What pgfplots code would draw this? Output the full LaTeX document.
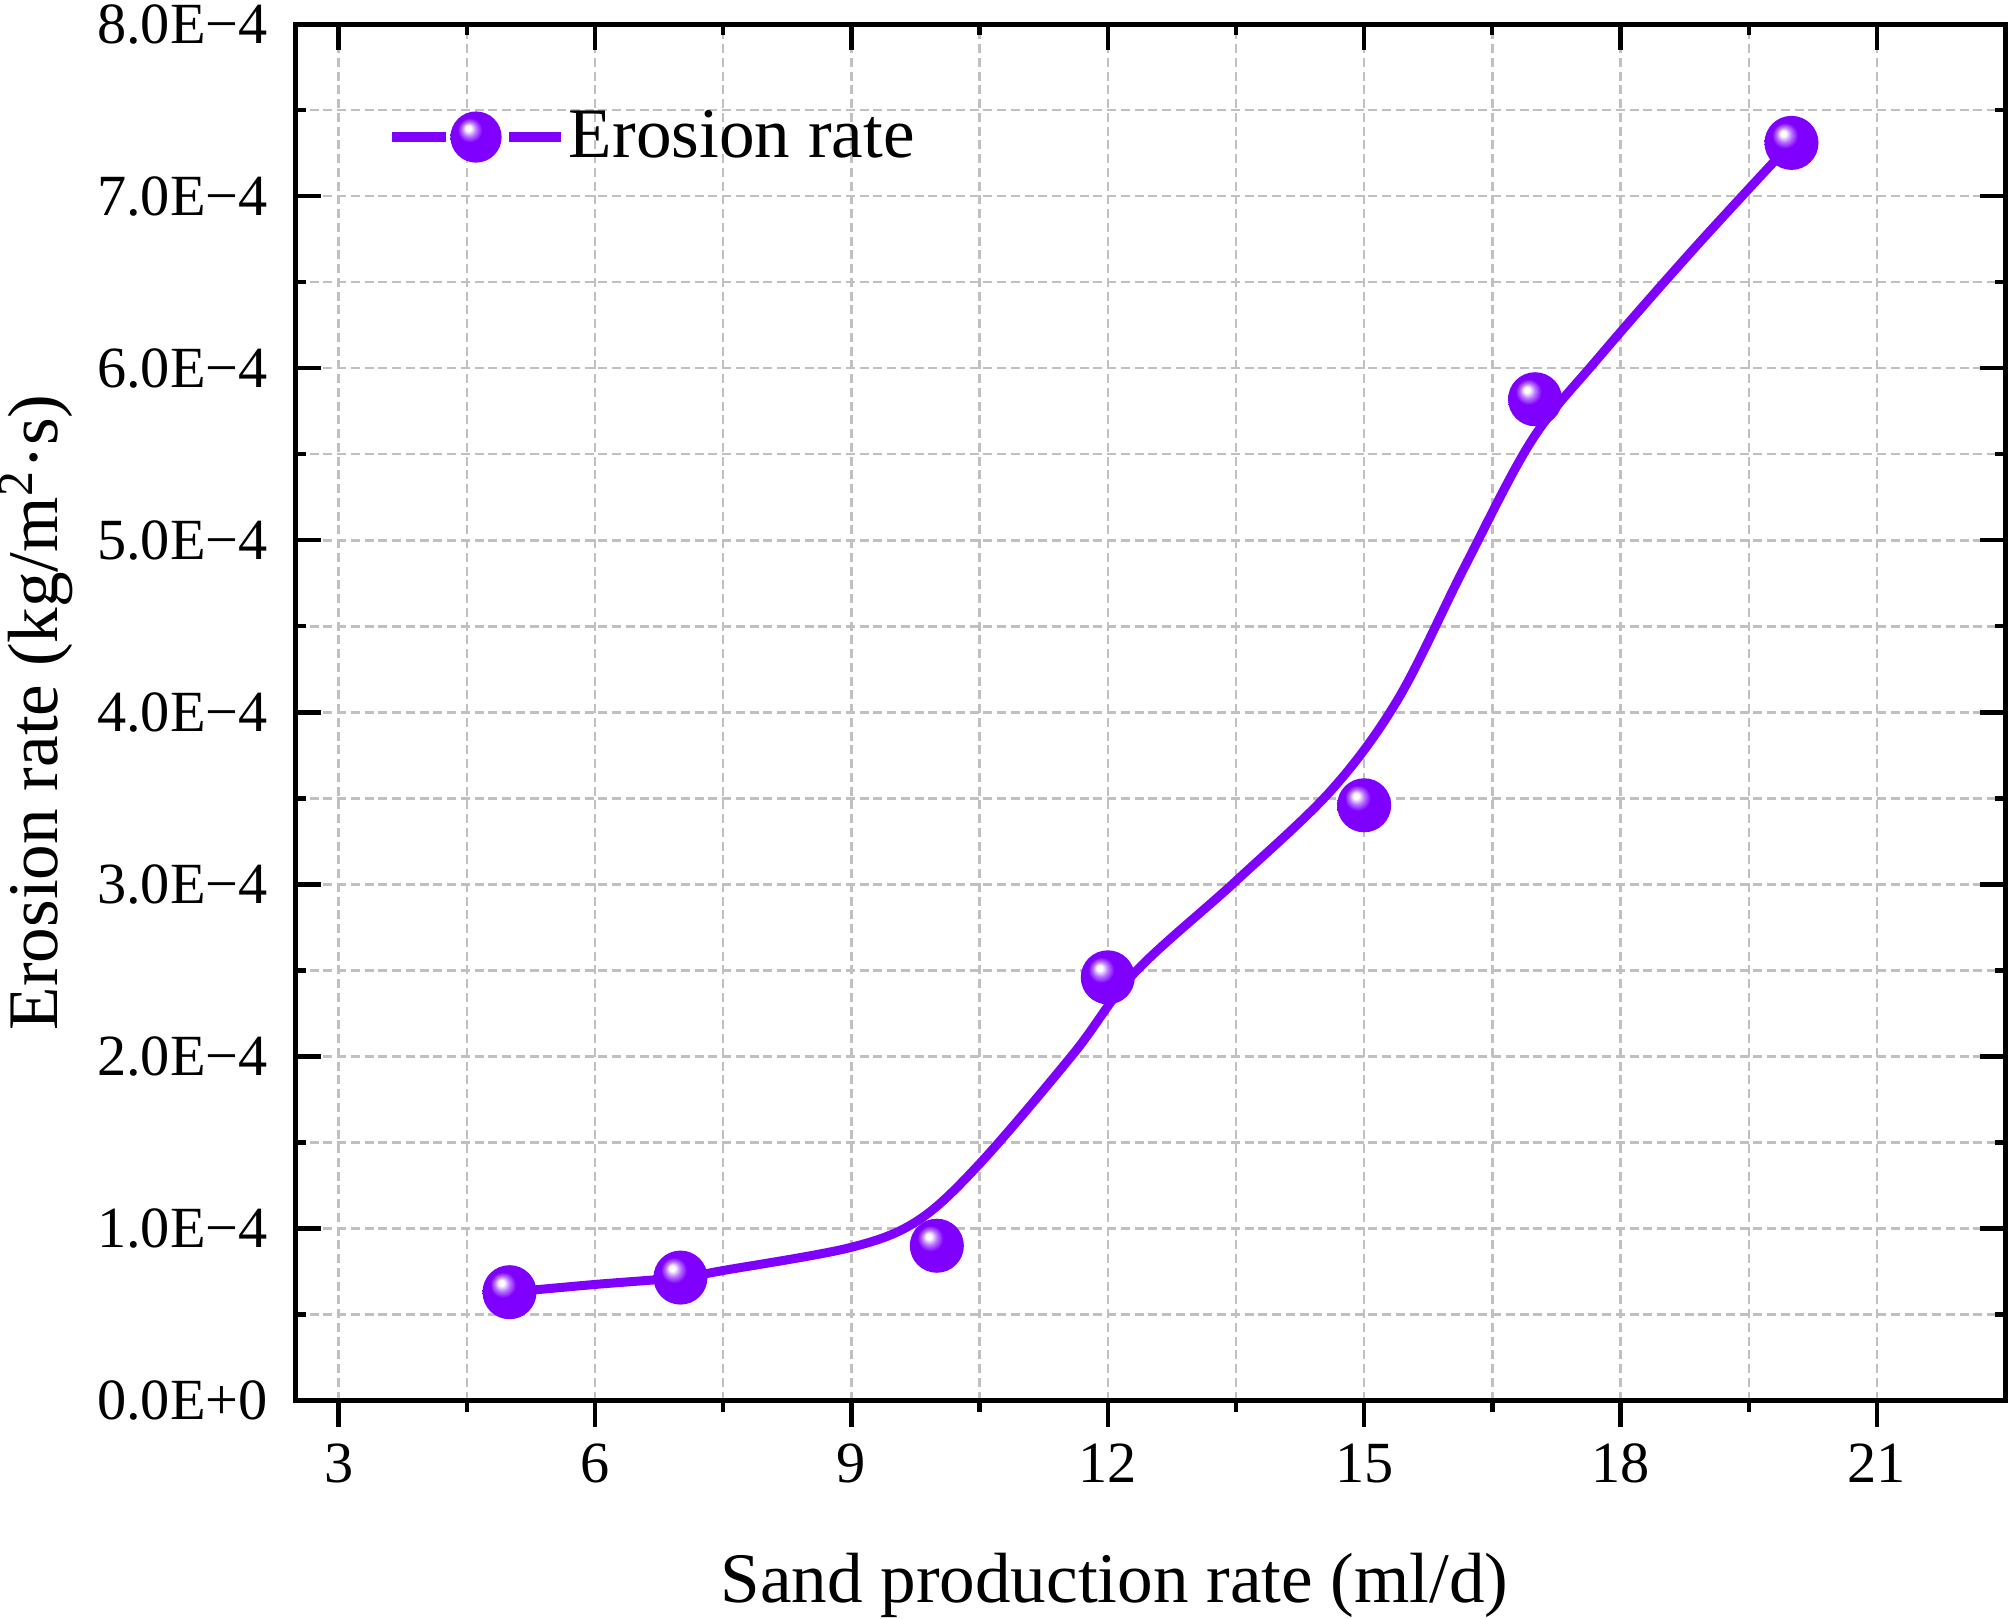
\documentclass[border=0pt]{standalone}
\usepackage{fontspec}
\setmainfont{Liberation Serif}
\usepackage{pgfplots}
\usepackage{pgfplotstable}
\pgfplotsset{compat=1.18}
\definecolor{pcol}{RGB}{127,0,255}
\definecolor{gridc}{RGB}{192,192,192}
\pgfdeclareradialshading{pballshade}{\pgfpoint{-8bp}{9bp}}{color(0bp)=(white); color(2.5bp)=(white); color(7bp)=(pcol!55!white); color(12bp)=(pcol); color(50bp)=(pcol)}
\pgfdeclareplotmark{pball}{%
  \pgfpathcircle{\pgfpointorigin}{\pgfplotmarksize}%
  \pgfshadepath{pballshade}{0}%
  \pgfusepath{discard}}

\pgfplotstableread{
x y
5 0.000063
7 0.0000715
10 0.00009
12 0.000246
15 0.000346
17 0.000582
20 0.000731
}\markdata

\pgfplotstableread{
x y
5.0 0.000063
6.0 0.0000675
7.0 0.0000715
7.5 0.0000756
9.0 0.0000891
9.78 0.0001047
10.5 0.0001376
11.6 0.0002017
12.32 0.000249
13.5 0.000302
14.62 0.000355
15.4 0.000408
16.18 0.000485
16.96 0.000558
17.74 0.000606
18.85 0.000669
20.0 0.000731
}\curvedata

\begin{document}
\begin{tikzpicture}
% bottom axis with outward ticks and labels
\begin{axis}[
  scale only axis, width=360.5pt, height=290.3pt,
  xmin=2.5, xmax=22.5, ymin=0, ymax=0.0008,
  axis x line*=bottom, axis y line=none,
  xtick={3,6,9,12,15,18,21}, minor x tick num=1,
  tick align=outside,
  major tick length=5.6pt, minor tick length=2.4pt,
  tick style={black, line width=0.9pt},
  axis line style={black, line width=1.1pt},
  /pgf/number format/assume math mode=true,
  tick label style={font=\fontsize{12.3}{14}\selectfont},
  xlabel={Sand production rate (ml/d)},
  xlabel style={at={(axis description cs:0.479,-0.1467)}, anchor=base, font=\fontsize{15}{18}\selectfont},
]
\end{axis}
\begin{axis}[
  scale only axis, width=360.5pt, height=290.3pt,
  xmin=2.5, xmax=22.5, ymin=0, ymax=0.0008,
  xtick={3,6,9,12,15,18,21}, minor x tick num=1,
  ytick={0,0.0001,0.0002,0.0003,0.0004,0.0005,0.0006,0.0007,0.0008},
  minor y tick num=1,
  yticklabels={0.0E+0,1.0E−4,2.0E−4,3.0E−4,4.0E−4,5.0E−4,6.0E−4,7.0E−4,8.0E−4},
  scaled y ticks=false,
  xtick pos=right, xticklabel=\empty,
  ytick pos=both, yticklabel pos=left,
  tick align=inside,
  major tick length=5.4pt, minor tick length=2.2pt,
  tick style={black, line width=0.9pt},
  axis line style={black, line width=1.1pt},
  grid=both,
  major grid style={gridc, dash pattern=on 1.9pt off 1pt, line width=0.5pt},
  minor grid style={gridc, dash pattern=on 1.9pt off 1pt, line width=0.5pt},
  tick label style={font=\fontsize{12.3}{14}\selectfont},
  yticklabel style={xshift=-2.4pt},
  ylabel={Erosion rate (kg/m\textsuperscript{2}·s)},
  ylabel style={at={(axis description cs:-0.1395,0.5)}, anchor=base, font=\fontsize{15}{18}\selectfont},
  legend style={draw=none, fill=none, at={(axis description cs:0.0527,0.918)}, anchor=west,
    inner sep=0pt, nodes={inner sep=0pt}, column sep=0pt,
    font=\fontsize{15}{18}\selectfont},
  legend cell align=left,
  /tikz/every odd column/.append style={column sep=0.6pt},
]
\addplot[pcol, line width=1.9pt, smooth, tension=0.55, forget plot] table[x=x,y=y] {\curvedata};
\addplot[only marks, mark=pball, mark size=5.7pt,
  legend image code/.code={
    \draw[pcol, line width=2.2pt] (0pt,0pt) -- (11.4pt,0pt);
    \draw[pcol, line width=2.2pt] (24.7pt,0pt) -- (35.6pt,0pt);
    \draw[mark=pball, mark size=5.4pt] plot coordinates {(17.7pt,0pt)};
  }] table[x=x,y=y] {\markdata};
\addlegendentry{Erosion rate}
\coordinate (bl) at (rel axis cs:0,0);
\coordinate (tr) at (rel axis cs:1,1);
\end{axis}
\pgfresetboundingbox
\useasboundingbox ([shift={(-62.4pt,-46pt)}]bl) rectangle ([shift={(0.6pt,5.1pt)}]tr);
\end{tikzpicture}
\end{document}
